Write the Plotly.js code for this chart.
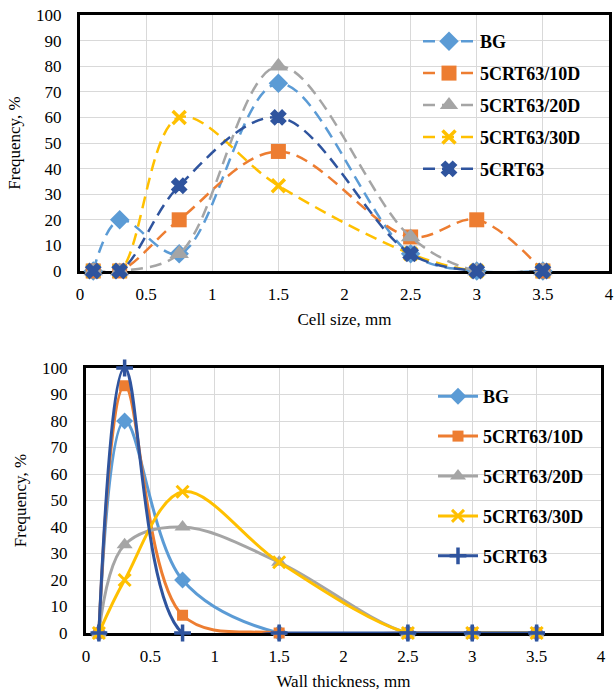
<!DOCTYPE html>
<html>
<head>
<meta charset="utf-8">
<script src="https://cdn.plot.ly/plotly-3.0.1.min.js"></script>
<style>html,body{margin:0;padding:0;background:#fff;}#chart{width:614px;height:693px;}</style>
</head>
<body>
<div id="chart"></div>
<script>
// ---- data ----
const xSizes = [0.1, 0.3, 0.75, 1.5, 2.5, 3, 3.5];
const seriesNames = ["BG", "5CRT63/10D", "5CRT63/20D", "5CRT63/30D", "5CRT63"];

// Top: cell size distribution (frequency, %)
const cellBG    = [0, 20, 6.7, 73.3, 6.7, 0, 0];
const cell10D   = [0, 0, 20, 46.7, 13.3, 20, 0];
const cell20D   = [0, 0, 6.7, 80, 13.3, 0, 0];
const cell30D   = [0, 0, 60, 33.3, 6.7, 0, 0];
const cellCRT63 = [0, 0, 33.3, 60, 6.7, 0, 0];

// Bottom: wall thickness distribution (frequency, %)
const wallBG    = [0, 80, 20, 0, 0, 0, 0];
const wall10D   = [0, 93.3, 6.7, 0, 0, 0, 0];
const wall20D   = [0, 33.3, 40, 26.7, 0, 0, 0];
const wall30D   = [0, 20, 53.3, 26.7, 0, 0, 0];
const wallCRT63 = [0, 100, 0, 0, 0, 0, 0];

const yTicks = [0,10,20,30,40,50,60,70,80,90,100];
const xTicks = [0,0.5,1,1.5,2,2.5,3,3.5,4];

// ---- styles ----
const colors = ["#5B9BD5", "#ED7D31", "#A5A5A5", "#FFC000", "#2F549E"];
const FONT = "'Liberation Serif', 'Times New Roman', serif";

const topMarkers = [
  {symbol: "diamond", size: 15},
  {symbol: "square", size: 15},
  {symbol: "triangle-up", size: 17},
  {symbol: "x-thin-open", size: 13, lw: 3.5},
  {symbol: "x", size: 13, lw: 1.5}
];
const botMarkers = [
  {symbol: "diamond", size: 13},
  {symbol: "square", size: 11},
  {symbol: "triangle-up", size: 14},
  {symbol: "x-thin-open", size: 12, lw: 3},
  {symbol: "cross-thin-open", size: 12, lw: 3.5}
];

const cellData = [cellBG, cell10D, cell20D, cell30D, cellCRT63];
const wallData = [wallBG, wall10D, wall20D, wall30D, wallCRT63];

function mk(m, c) {
  const o = {symbol: m.symbol, size: m.size, color: c};
  if (m.lw) o.line = {color: c, width: m.lw};
  return o;
}

const traces = [];
cellData.forEach((ys, i) => {
  traces.push({
    x: xSizes, y: ys, name: seriesNames[i], type: "scatter", mode: "lines+markers",
    xaxis: "x", yaxis: "y", legend: "legend", legendgroup: "t" + i,
    line: {color: colors[i], width: 2.5, dash: "12px,7px", shape: "spline", smoothing: 1},
    marker: mk(topMarkers[i], colors[i]), cliponaxis: false
  });
});
wallData.forEach((ys, i) => {
  traces.push({
    x: xSizes, y: ys, name: seriesNames[i], type: "scatter", mode: "lines+markers",
    xaxis: "x2", yaxis: "y2", legend: "legend2", legendgroup: "b" + i,
    line: {color: colors[i], width: 3, shape: "spline", smoothing: 1},
    marker: mk(botMarkers[i], colors[i]), cliponaxis: false
  });
});

function xax(domain, title, anchor) {
  return {
    domain: domain, anchor: anchor, range: [0, 4], tickvals: xTicks, ticktext: xTicks.map(String),
    showgrid: true, gridcolor: "#d9d9d9", gridwidth: 1, zeroline: false,
    showline: true, mirror: true, linecolor: "#000", linewidth: 3, layer: "below traces",
    ticks: "", ticklabelstandoff: 6, automargin: false,
    tickfont: {family: FONT, size: 17, color: "#000"},
    title: {text: title, font: {family: FONT, size: 17, color: "#000"}, standoff: 10}
  };
}
function yax(domain, anchor) {
  return {
    domain: domain, anchor: anchor, range: [0, 100], tickvals: yTicks, ticktext: yTicks.map(String),
    showgrid: true, gridcolor: "#d9d9d9", gridwidth: 1, zeroline: false,
    showline: true, mirror: true, linecolor: "#000", linewidth: 3, layer: "below traces",
    ticks: "", ticklabelstandoff: 12, automargin: false,
    tickfont: {family: FONT, size: 17, color: "#000"},
    title: {text: "Frequency, %", font: {family: FONT, size: 17, color: "#000"}, standoff: 12}
  };
}

const W = 614, H = 693;
const layout = {
  width: W, height: H,
  margin: {l: 0, r: 0, t: 0, b: 0},
  paper_bgcolor: "#fff", plot_bgcolor: "#fff",
  font: {family: FONT},
  showlegend: true,
  xaxis: xax([80 / W, 609 / W], "Cell size, mm", "y"),
  yaxis: yax([1 - 271 / H, 1 - 15 / H], "x"),
  xaxis2: xax([86 / W, 601 / W], "Wall thickness, mm", "y2"),
  yaxis2: yax([1 - 633 / H, 1 - 368 / H], "x2"),
  legend: {
    x: 418 / W, y: 1 - 23 / H, xanchor: "left", yanchor: "top",
    bgcolor: "rgba(0,0,0,0)", borderwidth: 0, itemwidth: 52,
    traceorder: "grouped", tracegroupgap: 5.5,
    font: {family: FONT, size: 18, color: "#000", weight: "bold"}
  },
  legend2: {
    x: 433 / W, y: 1 - 378 / H, xanchor: "left", yanchor: "top",
    bgcolor: "rgba(0,0,0,0)", borderwidth: 0, itemwidth: 40,
    traceorder: "grouped", tracegroupgap: 13.5,
    font: {family: FONT, size: 18, color: "#000", weight: "bold"}
  }
};

Plotly.newPlot("chart", traces, layout, {displayModeBar: false, staticPlot: true});
</script>
</body>
</html>
